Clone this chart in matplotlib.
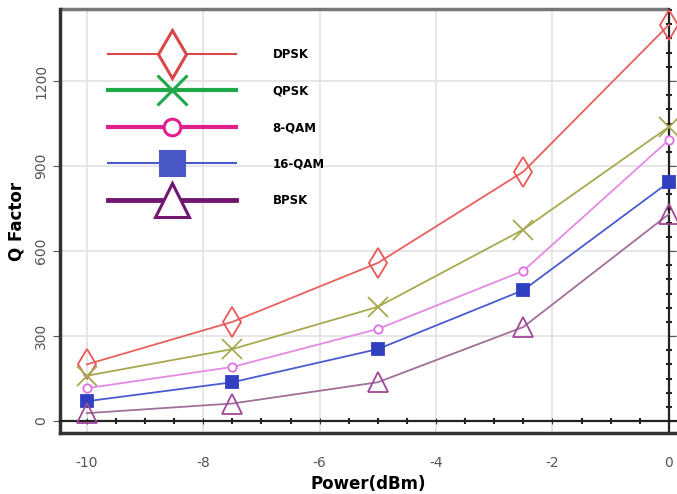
import numpy as np
import matplotlib
matplotlib.use("Agg")
import matplotlib.pyplot as plt
from matplotlib.lines import Line2D

plt.rcParams["axes.unicode_minus"] = False

power = [-10, -7.5, -5, -2.5, 0]
dpsk = [200, 350, 558, 880, 1398]
qpsk = [160, 254, 403, 676, 1038]
qam8 = [116, 191, 325, 530, 992]
qam16 = [70, 137, 254, 462, 843]
bpsk = [28, 62, 137, 332, 730]

labels = ["DPSK", "QPSK", "8-QAM", "16-QAM", "BPSK"]
series = [dpsk, qpsk, qam8, qam16, bpsk]
line_colors = ["#e8605e", "#a8a850", "#e48ae4", "#4a5ad0", "#a07098"]
marker_colors = ["#e85858", "#a8a850", "#e070e0", "#3040c0", "#a04898"]
leg_colors = ["#d84848", "#20a848", "#e0208c", "#4a58c8", "#701870"]
markers = ["d", "x", "o", "s", "^"]
msizes = [15, 14, 6, 9, 14]
leg_msizes = [24, 22, 12, 17, 24]
leg_lw = [1.5, 3, 3, 1.5, 3.5]
fills = ["none", "none", "none", "full", "none"]
yticks = [0, 300, 600, 900, 1200]
xticks = [-10, -8, -6, -4, -2, 0]

fig = plt.figure(figsize=(6.77, 4.94), dpi=100)
ax = fig.add_axes([60/677, 1-433/494, 1-60/677, (433-9)/494])
ax.set_xlim(-10.46, 0.14)
ax.set_ylim(-42, 1454)

ax.grid(True, color="#e2e2e2", lw=1.2)
ax.set_axisbelow(True)

for y, c, mc, m, ms, f in zip(series, line_colors, marker_colors, markers, msizes, fills):
    kw = dict(color=c, lw=1.3, marker=m, markersize=ms, markeredgecolor=mc,
              markeredgewidth=1.3, clip_on=False, zorder=5)
    if f == "none":
        kw["markerfacecolor"] = "white" if m in ("o",) else "none"
    else:
        kw["markerfacecolor"] = mc
    ax.plot(power, y, **kw)

# spines
for s in ["left", "bottom"]:
    ax.spines[s].set_color("#333333")
    ax.spines[s].set_linewidth(2.5)
ax.spines["top"].set_position(("data", 0))
ax.spines["top"].set_color("#222222")
ax.spines["top"].set_linewidth(1.6)
ax.spines["right"].set_position(("data", 0))
ax.spines["right"].set_color("#222222")
ax.spines["right"].set_linewidth(1.6)
ax.hlines(1454, -10.46, 0, color="#777777", lw=2.5, clip_on=False)

ax.set_xticks(xticks)
ax.set_yticks(yticks)
ax.set_xticks(np.arange(-10, 0.01, 0.5), minor=True)
ax.set_yticks(np.arange(0, 1451, 50), minor=True)
ax.tick_params(axis="x", which="major", colors="#333333", labelcolor="#555555",
               labelsize=10, direction="inout", length=5, top=True, bottom=False,
               labeltop=False, labelbottom=True, pad=14)
ax.tick_params(axis="x", which="minor", top=True, bottom=False, direction="inout",
               length=4, width=1.5, color="#222222")
ax.tick_params(axis="y", which="major", colors="#555555", labelsize=10,
               direction="out", length=5, right=True, left=True)
ax.tick_params(axis="y", which="minor", right=True, left=False, direction="inout",
               length=4, width=1.5, color="#222222")
for lab in ax.get_yticklabels():
    lab.set_rotation(90)
    lab.set_va("center")

ax.set_xlabel("Power(dBm)", fontsize=12, fontweight="bold", labelpad=4)
ax.set_ylabel("Q Factor", fontsize=12, fontweight="bold", labelpad=6)

handles = []
for c, m, ms, f, lw in zip(leg_colors, markers, leg_msizes, fills, leg_lw):
    handles.append(Line2D([], [], color=c, lw=lw, marker=m, markersize=ms,
                          markeredgecolor=c, markeredgewidth=2.2,
                          markerfacecolor=(c if f == "full" else "white")))
leg = ax.legend(handles, labels, loc="upper left", bbox_to_anchor=(0.065, 0.928),
                frameon=False, handlelength=10.8, labelspacing=2.0,
                handletextpad=3.1, borderpad=0.2,
                prop={"weight": "bold", "size": 8.5})

fig.savefig("out.png", dpi=100)
